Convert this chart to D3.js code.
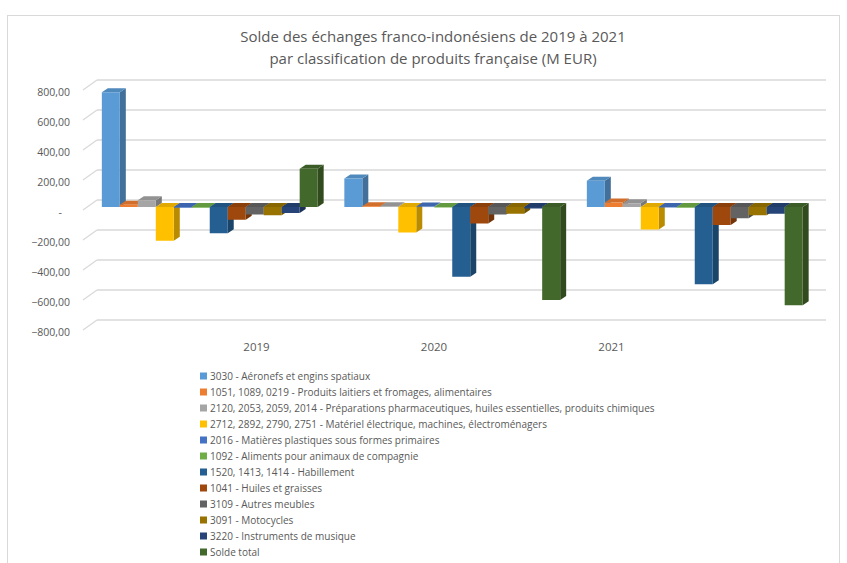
<!DOCTYPE html>
<html>
<head>
<meta charset="utf-8">
<script src="https://cdn.jsdelivr.net/npm/d3@7"></script>
<style>
  body { margin: 0; background: #fff; }
  svg text { font-family: "Open Sans", "Noto Sans", sans-serif; fill: #595959; }
</style>
</head>
<body>
<div id="chart"></div>
<script>
// data (M EUR)
const years = ["2019", "2020", "2021"];

const seriesNames = [
    "3030 - Aéronefs et engins spatiaux",
    "1051, 1089, 0219 - Produits laitiers et fromages, alimentaires",
    "2120, 2053, 2059, 2014 - Préparations pharmaceutiques, huiles essentielles, produits chimiques",
    "2712, 2892, 2790, 2751 - Matériel électrique, machines, électroménagers",
    "2016 - Matières plastiques sous formes primaires",
    "1092 - Aliments pour animaux de compagnie",
    "1520, 1413, 1414 - Habillement",
    "1041 - Huiles et graisses",
    "3109 - Autres meubles",
    "3091 - Motocycles",
    "3220 - Instruments de musique",
    "Solde total"
];

const seriesColors = ["#5B9BD5", "#ED7D31", "#A5A5A5", "#FFC000", "#4472C4", "#70AD47",
    "#255E91", "#9E480E", "#636363", "#997300", "#264478", "#43682B"];

// one array per series: [2019, 2020, 2021]
const values = [
    [765, 190, 175],
    [15, 5, 30],
    [45, 5, 25],
    [-225, -170, -150],
    [-5, 3, -3],
    [-5, -3, -5],
    [-175, -465, -515],
    [-85, -110, -120],
    [-50, -50, -75],
    [-55, -45, -55],
    [-40, -10, -45],
    [255, -620, -655]
];

const yTicks = [-800, -600, -400, -200, 0, 200, 400, 600, 800];

const width = 847, height = 563;

const svg = d3.select("#chart").append("svg")
    .attr("width", width)
    .attr("height", height);

// chart border
svg.append("rect")
    .attr("x", 7.5).attr("y", 15.5)
    .attr("width", 832).attr("height", 570)
    .attr("fill", "none")
    .attr("stroke", "#D9D9D9");

// title
let title = svg.append("text")
    .attr("text-anchor", "middle")
    .style("font-size", "15px");
title.append("tspan").attr("x", 433).attr("y", 42)
    .text("Solde des échanges franco-indonésiens  de 2019 à 2021");
title.append("tspan").attr("x", 433).attr("y", 64)
    .text("par classification de produits française (M EUR)");

// scales
let y = d3.scaleLinear().domain([-800, 800]).range([327, 87]);

let x0 = d3.scaleBand()
    .domain(years)
    .range([88.5, 816])
    .paddingInner(0.11)
    .paddingOuter(0.055);

let x1 = d3.scaleBand()
    .domain(d3.range(seriesNames.length))
    .range([0, x0.bandwidth()])
    .padding(0);

// category labels sit on the floor front edge
let xLabel = d3.scalePoint().domain(years).range([256, 611]);

const depthX = 6, depthY = -4;   // bar depth
const wallX = 14, wallY = -10;   // side wall depth

// gridlines: side wall diagonal + back wall
let grid = svg.append("g").attr("class", "grid");
yTicks.forEach(t => {
    let yy = y(t) - 7;
    grid.append("line")
        .attr("x1", 83).attr("y1", yy - wallY)
        .attr("x2", 83 + wallX).attr("y2", yy)
        .attr("stroke", "#D9D9D9").attr("stroke-width", 1.3);
    grid.append("line")
        .attr("x1", 83 + wallX).attr("y1", yy)
        .attr("x2", 826).attr("y2", yy)
        .attr("stroke", "#D9D9D9").attr("stroke-width", 1.3);
});

// y axis labels
let locale = d3.formatLocale({ decimal: ",", thousands: " ", grouping: [3], currency: ["", ""] });
let fmt = locale.format(",.2f");

let yAxis = d3.axisLeft(y)
    .tickValues(yTicks)
    .tickSize(0)
    .tickPadding(0)
    .tickFormat(d => d === 0 ? "-" : fmt(d));

svg.append("g")
    .attr("class", "y-axis axis")
    .attr("transform", "translate(70,5)")
    .call(yAxis)
    .call(g => g.select(".domain").remove())
    .selectAll("text")
    .style("font-size", "10.5px")
    .attr("fill", "#595959")
    .attr("dx", d => d === 0 ? "-8px" : 0);

// bars
let bars = svg.append("g").attr("class", "bars");
years.forEach((yr, j) => {
    values.forEach((vals, i) => {
        let v = vals[j];
        let x = x0(yr) + x1(i);
        let w = x1.bandwidth();
        let top = Math.min(y(v), y(0));
        let bot = Math.max(y(v), y(0));
        let c = d3.color(seriesColors[i]);

        // side face
        bars.append("path")
            .attr("d", `M${x + w},${top} L${x + w + depthX},${top + depthY} L${x + w + depthX},${bot + depthY} L${x + w},${bot} Z`)
            .attr("fill", c.darker(0.9));
        // top face
        bars.append("path")
            .attr("d", `M${x},${top} L${x + depthX},${top + depthY} L${x + w + depthX},${top + depthY} L${x + w},${top} Z`)
            .attr("fill", c.darker(0.35));
        // front face
        bars.append("rect")
            .attr("class", "bar")
            .attr("x", x)
            .attr("y", top)
            .attr("width", w)
            .attr("height", Math.max(bot - top, 0.5))
            .attr("fill", c);
    });
});

// category axis
svg.append("g")
    .attr("class", "x-axis axis")
    .attr("transform", "translate(0,343)")
    .call(d3.axisBottom(xLabel).tickSize(0).tickPadding(0))
    .call(g => g.select(".domain").remove())
    .selectAll("text")
    .style("font-size", "11.5px")
    .attr("fill", "#595959");

// legend
let legend = svg.append("g").attr("class", "legend");
seriesNames.forEach((name, i) => {
    let ly = 376 + i * 16;
    legend.append("rect")
        .attr("x", 200).attr("y", ly - 3.5)
        .attr("width", 7).attr("height", 7)
        .attr("fill", seriesColors[i]);
    legend.append("text")
        .attr("x", 210).attr("y", ly)
        .attr("dy", "0.35em")
        .style("font-size", "10px")
        .text(name);
});
</script>
</body>
</html>
